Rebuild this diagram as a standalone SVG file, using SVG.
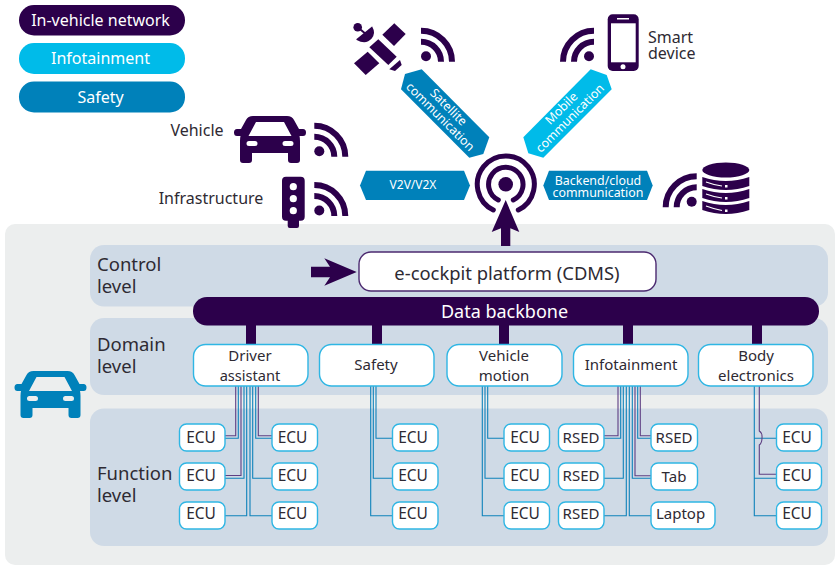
<svg xmlns="http://www.w3.org/2000/svg" width="835" height="565" viewBox="0 0 835 565">
<style>
text{font-family:"Noto Sans","Open Sans","Liberation Sans",sans-serif;font-size:15px;fill:#2e2a33;text-anchor:middle}
.w{fill:#fff}
.s{font-size:12.400px}
.m{font-size:16px}
.lv{font-size:18.500px;text-anchor:start}
.box{fill:#fff;stroke:#2fb6e4;stroke-width:1.4}
.ic{fill:#2c004b}
.wf{fill:none;stroke:#2c004b;stroke-width:5}
.b{fill:none;stroke:#0f82ba;stroke-width:1.1}
.p{fill:none;stroke:#5e3f83;stroke-width:1.1}
</style>
<defs>
<g id="wifi"><circle cx="5" cy="-5.500" r="5"/><path class="wf" d="M0-20A20 20 0 0 1 20 0M0-31A31 31 0 0 1 31 0" style="stroke-width:6"/></g>
<path id="car" fill-rule="evenodd" d="M-17 0H17Q22 0 24 4L29 13H33Q36 13 36 16.500T33 20H29.500Q30 22 30 25V44Q30 47 27 47H21Q18 47 18 44V37H-18V44Q-18 47-21 47H-27Q-30 47-30 44V25Q-30 22-29.500 20H-33Q-36 20-36 16.500T-33 13H-29L-24 4Q-22 0-17 0ZM-14 6-21.500 20H21.500L14 6ZM-21 25A2.500 2.500 0 0 0-21 30H-15A2.500 2.500 0 0 0-15 25ZM15 25A2.500 2.500 0 0 0 15 30H21A2.500 2.500 0 0 0 21 25Z"/>
</defs>
<g id="background">
<rect x="5" y="224" width="830" height="341" rx="10" fill="#eceeee"/>
<rect x="90" y="245" width="738" height="61.500" rx="14" fill="#cfdae6"/>
<rect x="90" y="318" width="738" height="77" rx="14" fill="#cfdae6"/>
<rect x="90" y="408.500" width="738" height="137.500" rx="14" fill="#cfdae6"/>
</g>
<g id="legend">
<g id="legend-network"><rect x="19" y="5" width="166" height="30.500" rx="15" fill="#2c004b"/><text class="w m" x="100.500" y="26">In-vehicle network</text></g>
<g id="legend-infotainment"><rect x="19" y="43" width="166" height="31" rx="15" fill="#00bbe9"/><text class="w m" x="100.500" y="64">Infotainment</text></g>
<g id="legend-safety"><rect x="19" y="81.500" width="166" height="31" rx="15" fill="#0081ba"/><text class="w m" x="100.500" y="103">Safety</text></g>
</g>
<g id="connectors">
<g class="ic"><rect x="246" y="320" width="10" height="25"/><rect x="372" y="320" width="10" height="25"/><rect x="499" y="320" width="10" height="25"/><rect x="623" y="320" width="10" height="25"/><rect x="752" y="320" width="10" height="25"/>
<path d="M501 246V228.300L491.700 232 505.700 200 519.300 232 510.300 228.300V246Z"/>
<path d="M311 266.700H330L324.300 258.300 356.700 272 324.300 285.700 330 277.300H311Z"/>
</g>
<path class="p" d="M235.700 386V435.700H225M241 386V475.500H225M258.300 386V435.700H272"/>
<path class="b" d="M238.300 386V438.300H225M244 386V478.300H225M246.700 386V515.700H225M250 386V515.700H272M252.700 386V478.300H272M255.700 386V438.300H272"/>
<path class="b" d="M376 386V438.300H392.500M373.300 386V478.300H392.500M370.700 386V515.700H392.500"/>
<path class="b" d="M487.700 386V438.300H504M485 386V478.300H504M482.300 386V515.700H504"/>
<path class="p" d="M618 386V435.700H604M640.300 386V435.700H651M635 386V475.700H651"/>
<path class="b" d="M620.700 386V438.300H604M623.300 386V478.300H604M626.300 386V515.700H604M629.300 386V515.700H651M632.300 386V478.300H651M637.700 386V438.300H651"/>
<path class="b" d="M754.300 386V515.700H776.500M754.300 438.300H776.500M754.300 478.300H776.500M754.300 515.700H776.500"/>
<path class="p" d="M759.300 386V431Q762.500 433 762 438 762 443 759.300 445V474.300H776.500"/>
</g>
<g id="backbone"><rect x="193" y="297" width="626" height="28.500" rx="14" fill="#2c004b"/><text class="w" x="504.500" y="317.500" style="font-size:18px">Data backbone</text></g>
<g id="control-label"><text class="lv" x="97" y="270.700">Control</text><text class="lv" x="97" y="292.700">level</text></g>
<g id="domain-label"><text class="lv" x="97" y="350.700">Domain</text><text class="lv" x="97" y="373">level</text></g>
<g id="function-label"><text class="lv" x="97" y="479.500">Function</text><text class="lv" x="97" y="502">level</text></g>
<g id="cdms"><rect x="359" y="252" width="297" height="39" rx="12" fill="#fff" stroke="#4c2a70" stroke-width="1.400"/><text x="507" y="280" style="font-size:18.400px">e-cockpit platform (CDMS)</text></g>
<g id="domain-driver"><rect class="box" x="193.500" y="344.500" width="114.500" height="41.500" rx="12"/><text x="250" y="361">Driver</text><text x="250" y="381" style="font-size:14.600px">assistant</text></g>
<g id="domain-safety"><rect class="box" x="319.500" y="344.500" width="114.500" height="41.500" rx="12"/><text x="376" y="370">Safety</text></g>
<g id="domain-vehicle"><rect class="box" x="447" y="344.500" width="115" height="41.500" rx="12"/><text x="504" y="361">Vehicle</text><text x="504" y="381">motion</text></g>
<g id="domain-infotainment"><rect class="box" x="573.500" y="344.500" width="114.500" height="41.500" rx="12"/><text x="631" y="370">Infotainment</text></g>
<g id="domain-body"><rect class="box" x="698.500" y="344.500" width="114.500" height="41.500" rx="12"/><text x="756" y="361">Body</text><text x="756" y="381">electronics</text></g>
<g id="ecu-d1"><rect class="box" x="179.500" y="424" width="45.500" height="27" rx="7"/><text x="201" y="443" style="font-size:15.500px">ECU</text></g>
<g id="ecu-d2"><rect class="box" x="179.500" y="463" width="45.500" height="27" rx="7"/><text x="201" y="481" style="font-size:15.500px">ECU</text></g>
<g id="ecu-d3"><rect class="box" x="179.500" y="502" width="45.500" height="27" rx="7"/><text x="201" y="519" style="font-size:15.500px">ECU</text></g>
<g id="ecu-d4"><rect class="box" x="272" y="424" width="45.500" height="27" rx="7"/><text x="292.500" y="443" style="font-size:15.500px">ECU</text></g>
<g id="ecu-d5"><rect class="box" x="272" y="463" width="45.500" height="27" rx="7"/><text x="292.500" y="481" style="font-size:15.500px">ECU</text></g>
<g id="ecu-d6"><rect class="box" x="272" y="502" width="45.500" height="27" rx="7"/><text x="292.500" y="519" style="font-size:15.500px">ECU</text></g>
<g id="ecu-s1"><rect class="box" x="392.500" y="424" width="45.500" height="27" rx="7"/><text x="413" y="443" style="font-size:15.500px">ECU</text></g>
<g id="ecu-s2"><rect class="box" x="392.500" y="463" width="45.500" height="27" rx="7"/><text x="413" y="481" style="font-size:15.500px">ECU</text></g>
<g id="ecu-s3"><rect class="box" x="392.500" y="502" width="45.500" height="27" rx="7"/><text x="413" y="519" style="font-size:15.500px">ECU</text></g>
<g id="ecu-v1"><rect class="box" x="504" y="424" width="45.500" height="27" rx="7"/><text x="525" y="443" style="font-size:15.500px">ECU</text></g>
<g id="ecu-v2"><rect class="box" x="504" y="463" width="45.500" height="27" rx="7"/><text x="525" y="481" style="font-size:15.500px">ECU</text></g>
<g id="ecu-v3"><rect class="box" x="504" y="502" width="45.500" height="27" rx="7"/><text x="525" y="519" style="font-size:15.500px">ECU</text></g>
<g id="rsed-1"><rect class="box" x="558.500" y="424" width="45.500" height="27" rx="7"/><text x="581" y="443">RSED</text></g>
<g id="rsed-2"><rect class="box" x="558.500" y="463" width="45.500" height="27" rx="7"/><text x="581" y="481">RSED</text></g>
<g id="rsed-3"><rect class="box" x="558.500" y="502" width="45.500" height="27" rx="7"/><text x="581" y="519">RSED</text></g>
<g id="rsed-4"><rect class="box" x="651" y="424" width="46.500" height="27" rx="7"/><text x="674" y="443">RSED</text></g>
<g id="tab"><rect class="box" x="651" y="463" width="46.500" height="27" rx="7"/><text x="674" y="482">Tab</text></g>
<g id="laptop"><rect class="box" x="651" y="502" width="64" height="27" rx="7"/><text x="680.500" y="519">Laptop</text></g>
<g id="ecu-b1"><rect class="box" x="776.500" y="424" width="45" height="27" rx="7"/><text x="797" y="443" style="font-size:15.500px">ECU</text></g>
<g id="ecu-b2"><rect class="box" x="776.500" y="463" width="45" height="27" rx="7"/><text x="797" y="481" style="font-size:15.500px">ECU</text></g>
<g id="ecu-b3"><rect class="box" x="776.500" y="502" width="45" height="27" rx="7"/><text x="797" y="519" style="font-size:15.500px">ECU</text></g>
<g id="car-onboard" fill="#0081ba"><use href="#car" transform="translate(50.500 371)"/></g>
<g id="vehicle"><text class="m" x="197" y="135.500">Vehicle</text><use class="ic" href="#car" transform="translate(270 116)"/><use class="ic" href="#wifi" transform="translate(314.300 156.700)"/></g>
<g id="infrastructure"><text class="m" x="211" y="204.300">Infrastructure</text>
<path class="ic" d="M286 176.700H300.700Q304.700 176.700 304.700 180.700V216.700Q304.700 220.700 300.700 220.700H299V226Q299 228 297 228H289.700Q287.700 228 287.700 226V220.700H286Q282 220.700 282 216.700V180.700Q282 176.700 286 176.700Z"/>
<g fill="#fff"><circle cx="293.300" cy="186.700" r="3.600"/><circle cx="293.300" cy="198.700" r="3.600"/><circle cx="293.300" cy="210.700" r="3.600"/></g>
<use class="ic" href="#wifi" transform="translate(314.300 216)"/></g>
<g id="satellite"><g class="ic">
<circle cx="357.700" cy="27.300" r="4.300"/>
<path d="M357.700 27.300L367 35" stroke="#2c004b" stroke-width="2"/>
<path d="M372.300 26.700Q376 33 371.700 38.500 366 45 356.700 40 356 39.500 356.500 39L372 26.500Z"/>
<path d="M394.300 23.300L405.700 34 394 46 382.300 34.700Z"/>
<path d="M378.300 39.300L396.700 56.700 388.300 65 369.300 47.300Z"/>
<path d="M367.700 51.700L379.300 63.300 365.700 75 354 63.300Z"/>
<path d="M400 60L389.300 69.300 395 71 401.700 65Z"/>
</g>
<use class="ic" href="#wifi" transform="translate(421 61.700)"/></g>
<g id="smart-device"><use class="ic" href="#wifi" transform="translate(594 61.700) scale(-1 1)"/>
<rect class="ic" x="607.700" y="14.300" width="31" height="56.700" rx="5"/><rect x="611" y="23.300" width="24.700" height="39" fill="#fff"/><circle cx="623" cy="66.700" r="2.500" fill="#fff"/><rect x="617" y="18" width="12" height="1.500" fill="#fff"/>
<text class="m" x="648" y="42.700" style="text-anchor:start">Smart</text><text class="m" x="648" y="59" style="text-anchor:start">device</text></g>
<g id="antenna"><circle class="ic" cx="505.700" cy="184.300" r="7.300"/><path class="wf" d="M498.300 200A17.200 17.200 0 1 1 513.300 200M493.300 210A28.500 28.500 0 1 1 518.300 210" style="stroke-linecap:round"/></g>
<g id="v2v"><path fill="#0081ba" d="M366 170.700H464L470 185.500 464 200H366L360 185.500Z"/><text class="w" x="413" y="189" style="font-size:12px">V2V/V2X</text></g>
<g id="backend"><path fill="#0081ba" d="M549 170.700H647L652.700 185.500 647 200H549L543.300 185.500Z"/><text class="w s" x="598" y="185">Backend/cloud</text><text class="w s" x="598" y="197.300">communication</text></g>
<g id="server-wifi"><use class="ic" href="#wifi" transform="translate(696.700 207.300) scale(-1 1)"/>
<g class="ic"><ellipse cx="725.800" cy="170" rx="23.500" ry="7.500"/>
<path d="M702.300 177Q725.800 185 749.300 177V186Q725.800 194 702.300 186ZM702.300 189Q725.800 197 749.300 189V198Q725.800 206 702.300 198ZM702.300 201Q725.800 209 749.300 201V210Q725.800 218 702.300 210Z"/></g>
<g fill="#fff"><rect x="725" y="185" width="2.500" height="2.500"/><rect x="725" y="197" width="2.500" height="2.500"/><rect x="725" y="209.500" width="2.500" height="2.500"/></g>
<path d="M706 182Q714 185 722 186M706 194Q714 197 722 198M706 206Q714 209 722 210.500" fill="none" stroke="#fff" stroke-width="1.200"/></g>
<g id="satellite-link"><path fill="#0081ba" d="M421.700 69.300L489.300 137.300 483.300 154 469.300 157.700 401 89.300 405 74Z"/><g transform="translate(445.500 113) rotate(45)"><text class="w s" x="-2" y="-2">Satellite</text><text class="w s" x="-1" y="10.500">communication</text></g></g>
<g id="mobile-link"><path fill="#00bbe9" d="M590.700 69.300L606.700 75 611.700 89.300 543.300 157.700 528.300 153.300 523.300 137.300Z"/><g transform="translate(567.500 113) rotate(-45)"><text class="w s" x="-1" y="-3.500">Mobile</text><text class="w s" x="-2" y="9.500">communication</text></g></g>
</svg>
